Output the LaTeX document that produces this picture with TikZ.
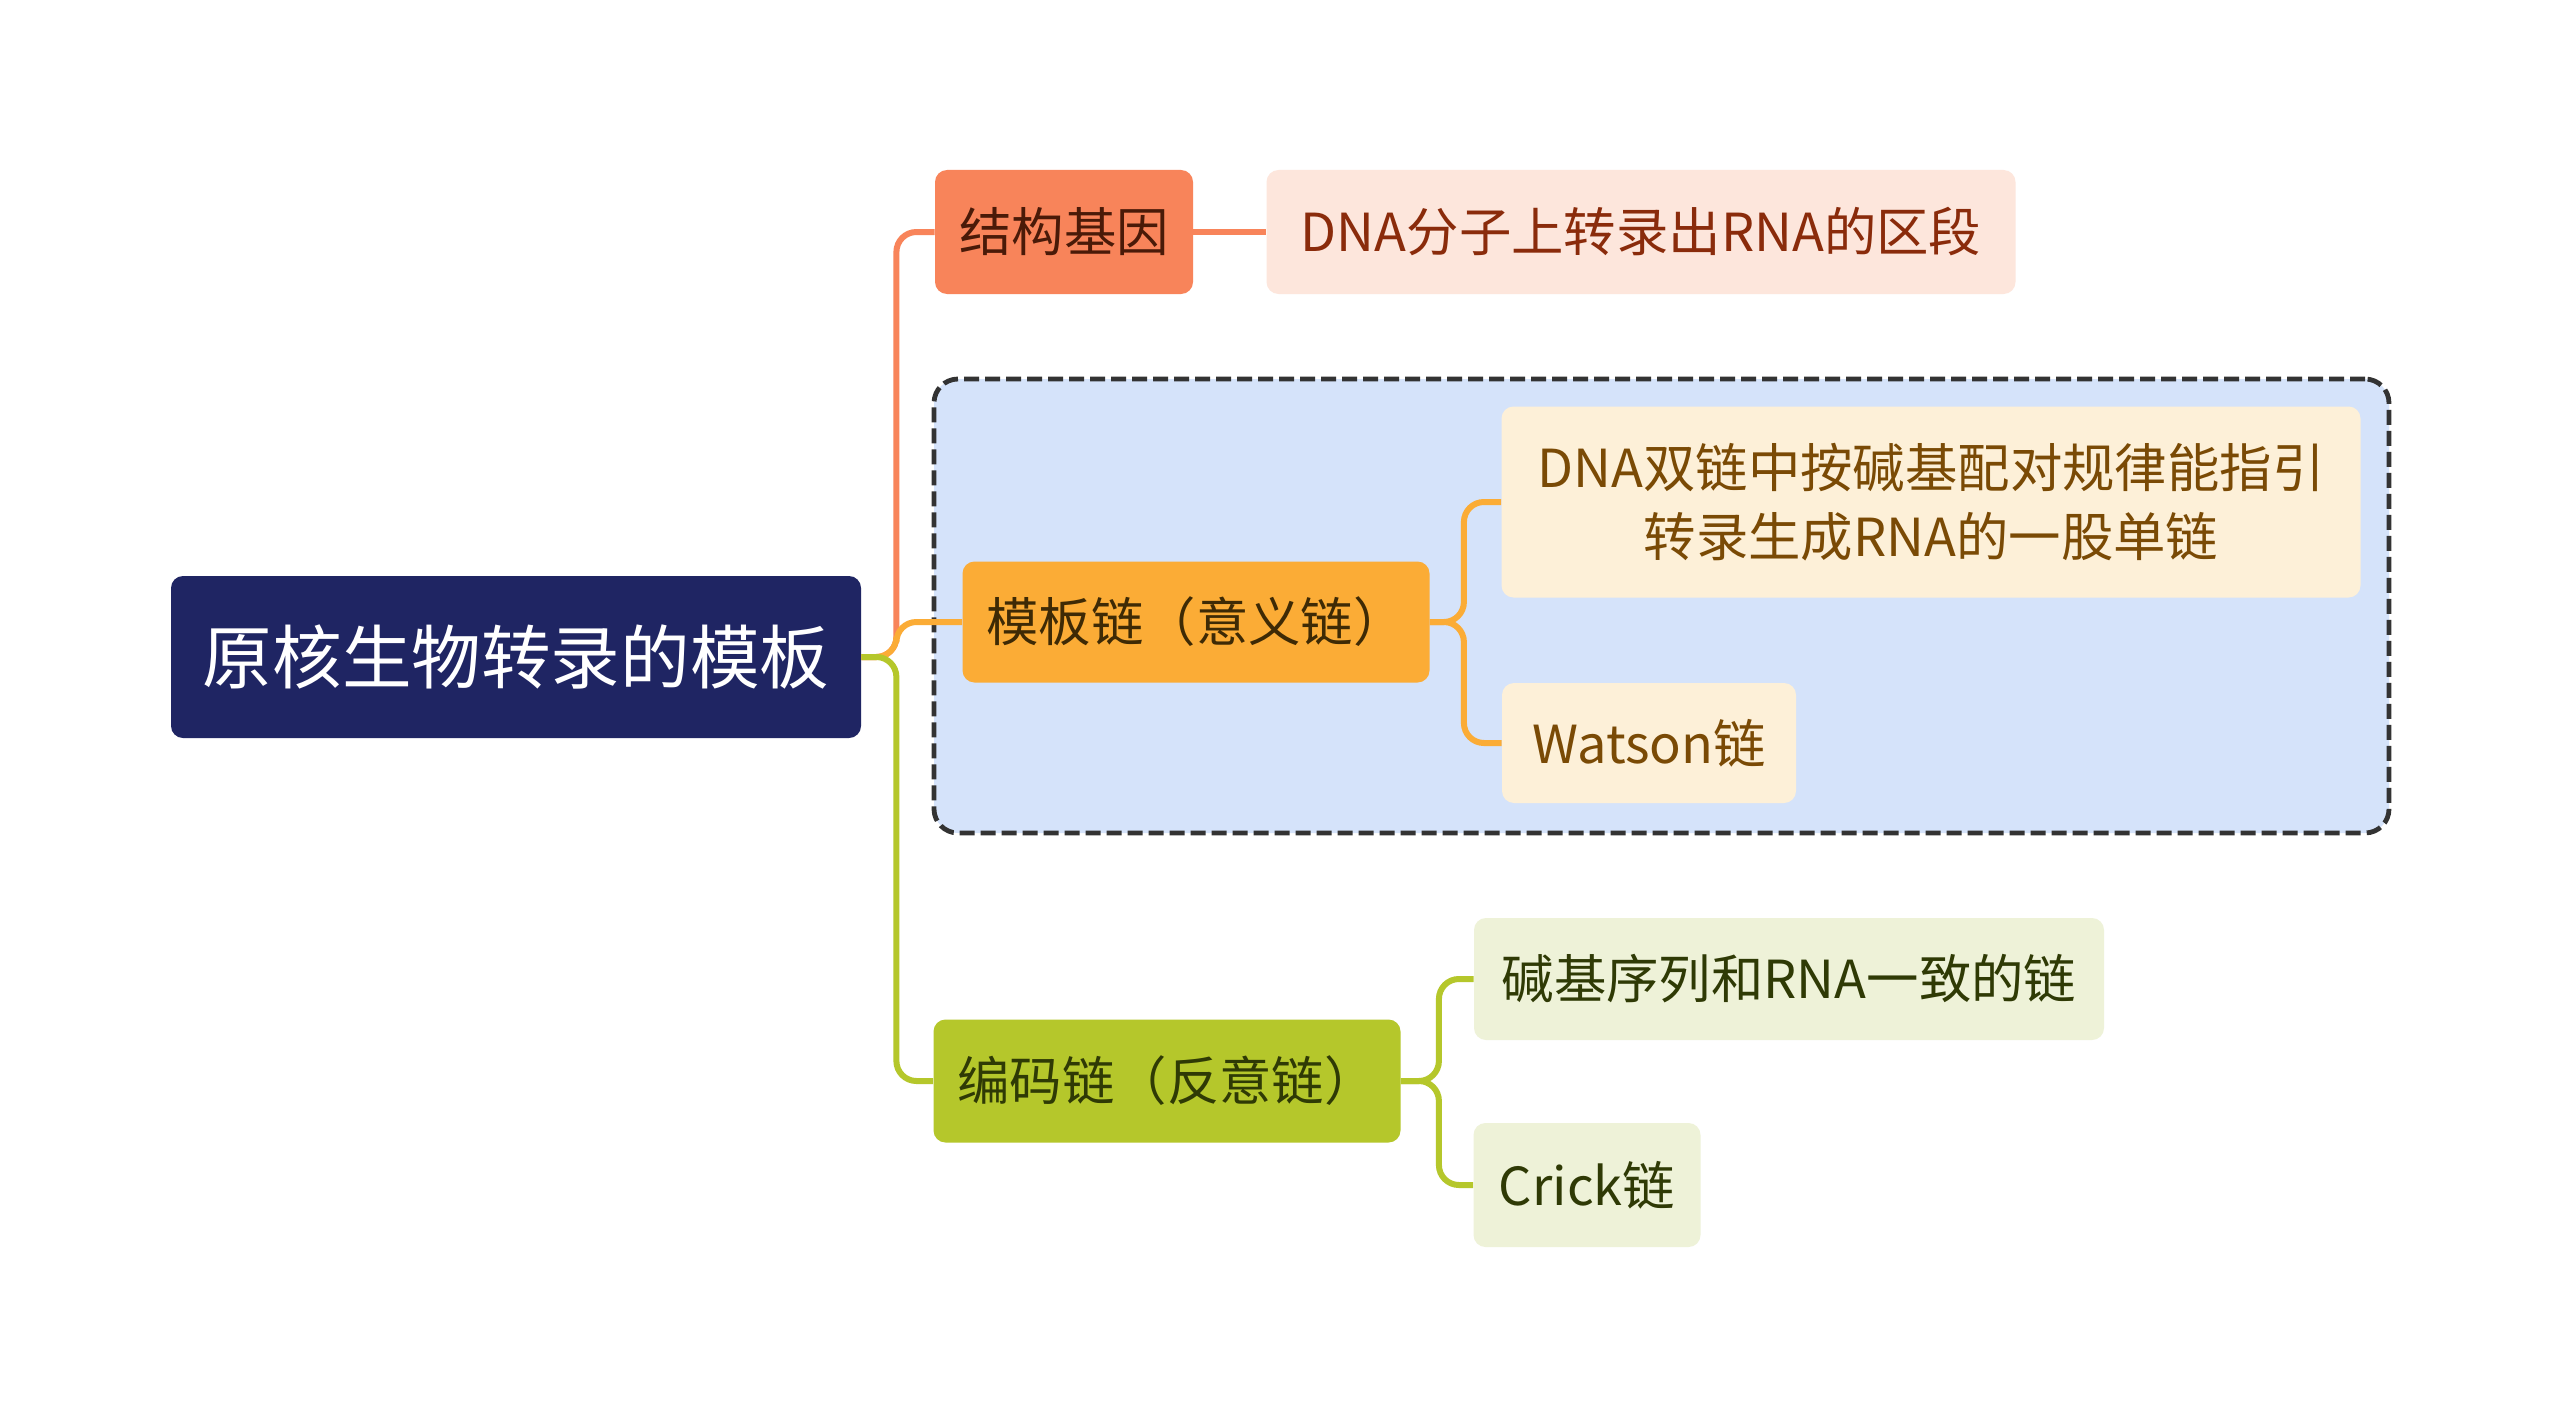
\documentclass[tikz,border=0pt]{standalone}
\usepackage{fontspec}
\setmainfont{Noto Sans CJK SC}
\definecolor{rootc}{HTML}{1F2563}
\definecolor{coral}{HTML}{F8845A}
\definecolor{pinkl}{HTML}{FDE6DC}
\definecolor{redt}{HTML}{8A2B0B}
\definecolor{coralt}{HTML}{4A1A08}
\definecolor{bluebg}{HTML}{D5E3FA}
\definecolor{orng}{HTML}{FBAC36}
\definecolor{cream}{HTML}{FDF0D8}
\definecolor{brownt}{HTML}{7A4A05}
\definecolor{orngt}{HTML}{3E2A05}
\definecolor{grn}{HTML}{B5C72B}
\definecolor{grnl}{HTML}{EEF2D8}
\definecolor{grnt}{HTML}{2F3A05}
\definecolor{dashc}{HTML}{333333}
\begin{document}
\begin{tikzpicture}[x=0.5pt,y=-0.5pt,
  box/.style={rounded corners=6pt, inner sep=0pt, align=center, font=\fontsize{26.2}{34.5}\selectfont},
  conn/.style={line width=3pt, rounded corners=10pt}]
\useasboundingbox (0,0) rectangle (2560,1418);
\fill[white] (0,0) rectangle (2560,1418);
% group box
\node[draw=dashc, fill=bluebg, line width=2.4pt, dash pattern=on 7.5pt off 3pt, rounded corners=12pt,
  minimum width=727.5pt, minimum height=227pt, inner sep=0pt] (grp) at (1661.5,606) {};
% nodes
\node[box, fill=rootc, text=white, font=\fontsize{34.8}{40}\selectfont,
  minimum width=345pt, minimum height=81pt] (root) at (516,657) {原核生物转录的模板};
\node[box, fill=coral, text=coralt, minimum width=129pt, minimum height=62pt] (jg) at (1064,232) {结构基因};
\node[box, fill=pinkl, text=redt, minimum width=374.5pt, minimum height=62pt] (jgd) at (1641,232) {DNA分子上转录出RNA的区段};
\node[box, fill=orng, text=orngt, minimum width=233.5pt, minimum height=60.5pt] (mb) at (1196,622) {模板链（意义链）};
\node[box, fill=cream, text=brownt, minimum width=429.5pt, minimum height=95.5pt] (mbd) at (1931,502) {DNA双链中按碱基配对规律能指引\\转录生成RNA的一股单链};
\node[box, fill=cream, text=brownt, minimum width=147pt, minimum height=60pt] (ws) at (1649,743) {Watson链};
\node[box, fill=grn, text=grnt, minimum width=233.5pt, minimum height=61.5pt] (bm) at (1167,1081) {编码链（反意链）};
\node[box, fill=grnl, text=grnt, minimum width=315pt, minimum height=61pt] (bmd) at (1789,979) {碱基序列和RNA一致的链};
\node[box, fill=grnl, text=grnt, minimum width=113.5pt, minimum height=62pt] (cr) at (1587,1185) {Crick链};
% connectors
\draw[conn, coral] (root.east) -- ++(35,0) |- (jg.west);
\draw[conn, orng] (root.east) -- ++(35,0) |- (mb.west);
\draw[conn, grn] (root.east) -- ++(35,0) |- (bm.west);
\draw[conn, coral] (jg.east) -- (jgd.west);
\draw[conn, orng] (mb.east) -- ++(34,0) |- (mbd.west);
\draw[conn, orng] (mb.east) -- ++(34,0) |- (ws.west);
\draw[conn, grn] (bm.east) -- ++(38,0) |- (bmd.west);
\draw[conn, grn] (bm.east) -- ++(38,0) |- (cr.west);
\end{tikzpicture}
\end{document}
